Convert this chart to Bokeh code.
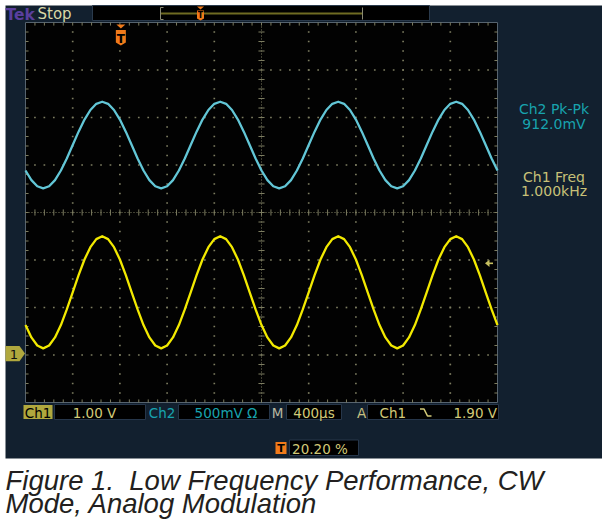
import numpy as np
from bokeh.plotting import figure
from bokeh.models import Range1d
from bokeh.embed import file_html
from bokeh.resources import INLINE
from bokeh.core.properties import value

t_us = [0, 50, 100, 150, 200, 250, 300, 350, 400, 450,
        500, 550, 600, 650, 700, 750, 800, 850, 900, 950,
        1000, 1050, 1100, 1150, 1200, 1250, 1300, 1350, 1400, 1450,
        1500, 1550, 1600, 1650, 1700, 1750, 1800, 1850, 1900, 1950,
        2000, 2050, 2100, 2150, 2200, 2250, 2300, 2350, 2400, 2450,
        2500, 2550, 2600, 2650, 2700, 2750, 2800, 2850, 2900, 2950,
        3000, 3050, 3100, 3150, 3200, 3250, 3300, 3350, 3400, 3450,
        3500, 3550, 3600, 3650, 3700, 3750, 3800, 3850, 3900, 3950,
        4000]

ch1_v = [0.60, 0.34, 0.17, 0.11, 0.17, 0.34, 0.60, 0.93, 1.29, 1.65,
         1.98, 2.24, 2.41, 2.47, 2.41, 2.24, 1.98, 1.65, 1.29, 0.93,
         0.60, 0.34, 0.17, 0.11, 0.17, 0.34, 0.60, 0.93, 1.29, 1.65,
         1.98, 2.24, 2.41, 2.47, 2.41, 2.24, 1.98, 1.65, 1.29, 0.93,
         0.60, 0.34, 0.17, 0.11, 0.17, 0.34, 0.60, 0.93, 1.29, 1.65,
         1.98, 2.24, 2.41, 2.47, 2.41, 2.24, 1.98, 1.65, 1.29, 0.93,
         0.60, 0.34, 0.17, 0.11, 0.17, 0.34, 0.60, 0.93, 1.29, 1.65,
         1.98, 2.24, 2.41, 2.47, 2.41, 2.24, 1.98, 1.65, 1.29, 0.93,
         0.60]

ch2_v = [-0.268, -0.369, -0.434, -0.456, -0.434, -0.369, -0.268, -0.141, 0.000, 0.141,
         0.268, 0.369, 0.434, 0.456, 0.434, 0.369, 0.268, 0.141, 0.000, -0.141,
         -0.268, -0.369, -0.434, -0.456, -0.434, -0.369, -0.268, -0.141, 0.000, 0.141,
         0.268, 0.369, 0.434, 0.456, 0.434, 0.369, 0.268, 0.141, 0.000, -0.141,
         -0.268, -0.369, -0.434, -0.456, -0.434, -0.369, -0.268, -0.141, 0.000, 0.141,
         0.268, 0.369, 0.434, 0.456, 0.434, 0.369, 0.268, 0.141, 0.000, -0.141,
         -0.268, -0.369, -0.434, -0.456, -0.434, -0.369, -0.268, -0.141, 0.000, 0.141,
         0.268, 0.369, 0.434, 0.456, 0.434, 0.369, 0.268, 0.141, 0.000, -0.141,
         -0.268]

# scope settings
ch1_v_per_div = 1.00
ch2_v_per_div = 0.50
time_us_per_div = 400
ch1_pos_div = -2.97
ch2_pos_div = 1.42
trig_pos_pct = 20.20
trig_level_v = 1.90

readout_ch2 = ["Ch2 Pk-Pk", "912.0mV"]
readout_ch1 = ["Ch1 Freq", "1.000kHz"]
status_ch1 = ["Ch1", "1.00 V"]
status_ch2 = ["Ch2", "500mV \u03a9"]
status_time = ["M", "400\u00b5s"]
status_trig = ["A", "Ch1", "1.90 V"]
trig_pos_text = "20.20 %"
caption = ["Figure 1.\u00a0 Low Frequency Performance, CW", "Mode, Analog Modulation"]

# ---------------- layout (pixel coordinates of the picture) ----------------
W, H = 602, 519
GX0, GX1, GY0, GY1 = 25, 497, 22, 402
ppx = (GX1 - GX0) / 10.0
ppy = (GY1 - GY0) / 8.0
cx = (GX0 + GX1) / 2.0
cy = (GY0 + GY1) / 2.0
BASE_FIX = 0.28   # measured: rendered baseline sits this many em below y


def xdiv(px):
    return (px - cx) / ppx


def ydiv(py):
    return (cy - py) / ppy


NAVY = "#12202f"
GRID = "#7c7c60"
KHAKI = "#d2ca78"
TEAL = "#18a3ae"
ORANGE = "#f07a1a"
OLIVE = "#b0a83e"
FONT = "DejaVu Sans"

p = figure(width=W, height=H, x_range=Range1d(0, W), y_range=Range1d(H, 0),
           output_backend="svg", toolbar_location=None, min_border=0,
           x_axis_location=None, y_axis_location=None,
           background_fill_color="white", border_fill_color="white",
           outline_line_color=None)
p.grid.visible = False

p.extra_x_ranges = {
    "div": Range1d(xdiv(0), xdiv(W)),
    "t": Range1d((xdiv(0) + 5) * time_us_per_div, (xdiv(W) + 5) * time_us_per_div),
}
p.extra_y_ranges = {
    "div": Range1d(ydiv(H), ydiv(0)),
    "ch1": Range1d((ydiv(H) - ch1_pos_div) * ch1_v_per_div, (ydiv(0) - ch1_pos_div) * ch1_v_per_div),
    "ch2": Range1d((ydiv(H) - ch2_pos_div) * ch2_v_per_div, (ydiv(0) - ch2_pos_div) * ch2_v_per_div),
}


def box(x0, y0, x1, y1, color, line=None):
    p.quad(left=[x0], right=[x1], top=[y0], bottom=[y1], fill_color=color,
           line_color=line, line_width=1)


def txt(x, y, s, color, size, align="left", font=FONT, style="normal"):
    p.text(x=[x], y=[y - BASE_FIX * size], text=[s], text_color=color,
           text_font_size=f"{size}px", text_align=align, text_baseline="alphabetic",
           text_font=value(font), text_font_style=style)


# screen background
box(5, 5, 607, 458, NAVY)
# graticule
box(GX0, GY0, GX1, GY1, "#020202", line="#56636f")

# grid dots
gx, gy = [], []
for xv in [-4, -3, -2, -1, 1, 2, 3, 4]:
    for yv in np.arange(-3.8, 3.81, 0.2):
        gx.append(xv)
        gy.append(round(yv, 3))
for yv in [-3, -2, -1, 1, 2, 3]:
    for xv in np.arange(-4.8, 4.81, 0.2):
        gx.append(round(xv, 3))
        gy.append(yv)
p.scatter(x=gx, y=gy, marker="square", size=1.7, fill_color=GRID, line_color=None,
          x_range_name="div", y_range_name="div")

# centre lines with ticks, edge ticks
p.segment(x0=[-5, 0], y0=[0, -4], x1=[5, 0], y1=[0, 4], line_color=GRID, line_width=1,
          line_dash="1 2", x_range_name="div", y_range_name="div")
tx = [round(v, 3) for v in np.arange(-4.8, 4.81, 0.2)]
ty = [round(v, 3) for v in np.arange(-3.8, 3.81, 0.2)]
tk = 0.065
sx0, sy0, sx1, sy1 = [], [], [], []
for v in tx:
    sx0 += [v, v, v]; sx1 += [v, v, v]
    sy0 += [-tk, 4, -4]; sy1 += [tk, 4 - tk, -4 + tk]
for v in ty:
    sy0 += [v, v, v]; sy1 += [v, v, v]
    sx0 += [-tk, -5, 5]; sx1 += [tk, -5 + tk, 5 - tk]
p.segment(x0=sx0, y0=sy0, x1=sx1, y1=sy1, line_color=GRID, line_width=1,
          x_range_name="div", y_range_name="div")

# waveforms
p.line(x=t_us, y=ch2_v, line_color="#62c6d6", line_width=2.3, line_join="round",
       x_range_name="t", y_range_name="ch2")
p.line(x=t_us, y=ch1_v, line_color="#f2e900", line_width=2.3, line_join="round",
       x_range_name="t", y_range_name="ch1")

# trigger position marker (top of graticule)
tpx = GX0 + trig_pos_pct / 100.0 * (GX1 - GX0)
p.patch(x=[tpx - 4.5, tpx + 4.5, tpx], y=[24, 24, 28], fill_color=ORANGE, line_color=None)
p.patch(x=[tpx - 5, tpx + 5, tpx + 5, tpx, tpx - 5], y=[29.5, 29.5, 42, 45, 42],
        fill_color=ORANGE, line_color=None)
txt(tpx, 41.5, "T", "#000000", 12, align="center", style="bold")

# ch1 ground marker
p.patch(x=[5, 19, 24.5, 19, 5], y=[-0.16, -0.16, 0, 0.16, 0.16], fill_color=OLIVE,
        line_color=None, y_range_name="ch1")
gnd1_py = cy - ch1_pos_div * ppy
txt(13.5, gnd1_py + 5, "1", "#111111", 13, align="center")

# trigger level arrow
p.patch(x=[484.5, 489, 489], y=[trig_level_v, trig_level_v + 0.075, trig_level_v - 0.075],
        fill_color="#c8c060", line_color=None, y_range_name="ch1")
p.segment(x0=[488], y0=[trig_level_v], x1=[492.5], y1=[trig_level_v], line_color="#c8c060",
          line_width=1.6, y_range_name="ch1")

# top bar
txt(5, 18.5, "Tek", "#5a3f9e", 15.5, style="bold")
txt(37, 18, "Stop", "#d8d8a6", 15)
box(92, 5, 429, 20, "#000000", line="#2a3a4c")
p.segment(x0=[160], y0=[13], x1=[362], y1=[13], line_color="#6e6b22", line_width=2)
p.segment(x0=[160, 160, 160], y0=[7, 7, 19], x1=[160, 163, 163], y1=[19, 7, 19],
          line_color="#8a8a74", line_width=1)
p.segment(x0=[362], y0=[7], x1=[362], y1=[19], line_color="#8a8a74", line_width=1)
p.patch(x=[196.5, 203.5, 200], y=[6, 6, 9], fill_color=ORANGE, line_color=None)
p.patch(x=[196.5, 203.5, 203.5, 200, 196.5], y=[10, 10, 18, 20, 18], fill_color=ORANGE,
        line_color=None)
txt(200, 17.5, "T", "#000000", 8, align="center", style="bold")

# right side readouts
txt(553.5, 112.5, readout_ch2[0], TEAL, 14, align="center")
txt(553.5, 127, readout_ch2[1], TEAL, 14, align="center")
txt(553.5, 180, readout_ch1[0], "#c8c078", 14, align="center")
txt(553.5, 194.5, readout_ch1[1], "#c8c078", 14, align="center")

# status bar
SB = 416.5
box(23, 404.5, 52, 418.5, OLIVE)
txt(37.5, SB, status_ch1[0], "#000000", 13.5, align="center")
box(54, 404, 145, 419, "#000000", line="#26364a")
txt(94, SB, status_ch1[1], KHAKI, 13.5, align="center")
txt(161.5, SB, status_ch2[0], TEAL, 13.5, align="center")
box(178, 404, 269, 419, "#000000", line="#26364a")
txt(225.5, SB, status_ch2[1], TEAL, 13.5, align="center")
txt(277, SB, status_time[0], "#b8b8a0", 13.5, align="center")
box(286, 404, 341, 419, "#000000", line="#26364a")
txt(313.5, SB, status_time[1], KHAKI, 13.5, align="center")
txt(361, SB, status_trig[0], "#c8c080", 13.5, align="center")
box(367, 404, 498, 419, "#000000", line="#26364a")
txt(379, SB, status_trig[1], KHAKI, 13.5)
p.line(x=[419.5, 423.5, 427, 431], y=[408.5, 408.5, 415.5, 415.5], line_color=KHAKI,
       line_width=1.6)
txt(496.5, SB, status_trig[2], KHAKI, 13.5, align="right")

# trigger position readout
p.quad(left=[275], right=[286], top=[441.5], bottom=[453.5], fill_color=ORANGE,
       line_color=None)
txt(280.5, 451.5, "T", "#000000", 11, align="center", style="bold")
box(289, 439.5, 358, 455, "#000000", line="#26364a")
txt(319.5, 452, trig_pos_text, KHAKI, 13.5, align="center")

# caption (kept inside the 519 px tall canvas)
txt(5, 487.5, caption[0], "#231f20", 27.5, font="Liberation Sans", style="italic")
txt(5, 510.5, caption[1], "#231f20", 27.5, font="Liberation Sans", style="italic")

open("out.html", "w").write(file_html(p, INLINE))
